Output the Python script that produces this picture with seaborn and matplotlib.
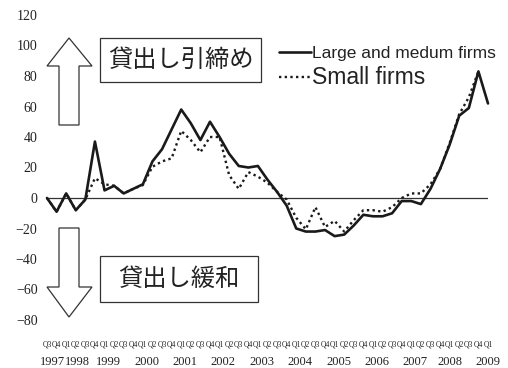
import numpy as np
import pandas as pd
import matplotlib
matplotlib.use("Agg")
import matplotlib.pyplot as plt
import seaborn as sns
from matplotlib.patches import Polygon, Rectangle
from matplotlib.lines import Line2D

# ---------------- data ----------------
quarters = ["Q3", "Q4"] + ["Q1", "Q2", "Q3", "Q4"] * 11 + ["Q1"]
years = ["1997", "1998", "1999", "2000", "2001", "2002", "2003",
         "2004", "2005", "2006", "2007", "2008", "2009"]
large = [0, -9, 3, -8, -1, 37, 5, 8, 3, 6, 9, 24, 32, 45, 58, 49, 38, 50,
         40, 29, 21, 20, 21, 12, 4, -5, -20, -22, -22, -21, -25, -24, -18,
         -11, -12, -12, -10, -2, -2, -4, 6, 19, 35, 54, 59, 83, 62]
small = [0, -9, 3, -8, -1, 13, 9, 8, 3, 6, 8.5, 20.5, 24, 26, 44, 38, 30,
         40, 40, 15, 6, 17, 14, 10, 4, -1, -13, -20.5, -6, -19, -15, -22,
         -14.5, -8, -8, -9, -6, 0, 3, 3, 9, 19, 36, 55, 66, 83, np.nan]
series_names = ["Large and medum firms", "Small firms"]
ytick_vals = [-80, -60, -40, -20, 0, 20, 40, 60, 80, 100, 120]
ytick_labels = ["−80", "−60", "−40", "−20", "0", "20", "40", "60", "80", "100", "120"]
label_up = "貸出し引締め"
label_down = "貸出し緩和"

idx = np.arange(len(quarters))
df = pd.DataFrame({
    "t": np.concatenate([idx, idx]),
    "value": large + small,
    "series": [series_names[0]] * len(idx) + [series_names[1]] * len(idx),
})

# ---------------- figure ----------------
W, H = 508, 368
sns.set_style("white")
plt.rcParams["font.family"] = ["Liberation Serif", "DejaVu Serif"]
fig = plt.figure(figsize=(W / 100, H / 100), dpi=100)

def fx(x):
    return x / W

def fy(y):
    return 1 - y / H

ax = fig.add_axes([fx(47), fy(320), fx(488) - fx(47), fy(15) - fy(320)])

dot_seq = (1, 1.4)
sns.lineplot(data=df, x="t", y="value", hue="series", style="series",
             palette={series_names[0]: "#1a1a1a", series_names[1]: "#1a1a1a"},
             dashes={series_names[0]: "", series_names[1]: dot_seq},
             size="series", sizes={series_names[0]: 1.9, series_names[1]: 1.7},
             legend=False, ax=ax, clip_on=False)
lines = ax.get_lines()
if lines:
    lines[0].set_zorder(3)

ax.axhline(0, color="#333333", lw=0.9, zorder=1)
ax.set_xlim(0, len(idx) - 1)
ax.set_ylim(-80, 120)
for s in ax.spines.values():
    s.set_visible(False)
ax.set_xlabel("")
ax.set_ylabel("")
ax.set_yticks(ytick_vals)
ax.set_yticklabels(ytick_labels, fontsize=10, color="#222222")
ax.tick_params(axis="y", length=0, pad=6.8)
ax.set_xticks(idx)
ax.set_xticklabels(quarters, fontsize=5.5, color="#222222")
ax.tick_params(axis="x", length=0, pad=14.5)
ax.grid(False)

# year labels (centred near first quarter of each year)
first_idx = {}
yr = 1997
for i, q in enumerate(quarters):
    if i == 0:
        first_idx[str(yr)] = i
    elif q == "Q1":
        yr += 1
        first_idx[str(yr)] = i
for y_lbl in years:
    i = first_idx[y_lbl]
    off = 0.4
    if y_lbl == "1997":
        off = 0.6
    elif y_lbl == "1998":
        off = 1.2
    elif y_lbl in ("2008", "2009"):
        off = 0.0
    ax.annotate(y_lbl, xy=(i + off, 0), xycoords=("data", "axes fraction"),
                xytext=(0, -30.2), textcoords="offset points",
                ha="center", va="center", fontsize=9, color="#222222",
                annotation_clip=False)

# ---------------- arrows & boxes ----------------
up = [(69, 38), (92, 66), (79, 66), (79, 125), (59, 125), (59, 66), (47, 66)]
down = [(59, 228), (79, 228), (79, 287), (92, 287), (69, 317), (47, 287), (59, 287)]
for pts in (up, down):
    fig.add_artist(Polygon([(fx(x), fy(y)) for x, y in pts], closed=True,
                           facecolor="white", edgecolor="#333333", lw=0.9,
                           transform=fig.transFigure))

for (x0, y0, x1, y1), txt in (((100, 38, 261, 82), label_up),
                              ((100, 256, 258, 302), label_down)):
    fig.add_artist(Rectangle((fx(x0), fy(y1)), fx(x1) - fx(x0), fy(y0) - fy(y1),
                             facecolor="white", edgecolor="#333333", lw=0.9,
                             transform=fig.transFigure))
    fig.text(fx((x0 + x1) / 2), fy((y0 + y1) / 2), txt, ha="center", va="center",
             fontsize=17.5, color="#222222",
             family=["Noto Sans CJK JP", "DejaVu Sans"])

# ---------------- legend ----------------
handles = [Line2D([], [], color="#1a1a1a", lw=1.9),
           Line2D([], [], color="#1a1a1a", lw=1.7, linestyle=(0, dot_seq))]
leg = fig.legend(handles, series_names, loc="upper left",
                 bbox_to_anchor=(fx(279), fy(45.5)), frameon=False,
                 handlelength=1.75, handletextpad=0.05, labelspacing=0.25,
                 borderpad=0, borderaxespad=0, fontsize=13)
texts = leg.get_texts()
texts[0].set_family(["Liberation Sans", "DejaVu Sans"])
texts[0].set_fontsize(12.5)
texts[1].set_family(["Liberation Sans", "DejaVu Sans"])
texts[1].set_fontsize(16.5)
for t in texts:
    t.set_color("#222222")

fig.savefig("out.png", dpi=100)
